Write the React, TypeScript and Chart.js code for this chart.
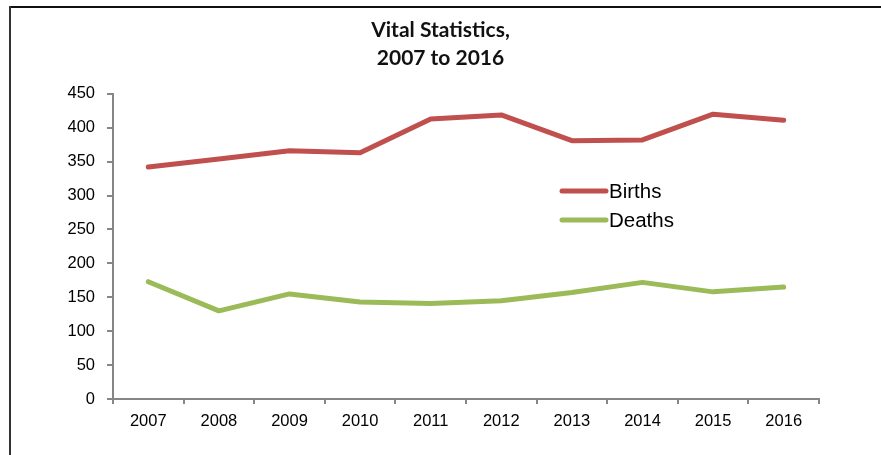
import React, { useEffect, useRef } from "react";
import { Chart, registerables } from "chart.js";

Chart.register(...registerables);

const years = ["2007", "2008", "2009", "2010", "2011", "2012", "2013", "2014", "2015", "2016"];
const births = [342, 354, 366, 363, 413, 419, 381, 382, 420, 411];
const deaths = [173, 130, 155, 143, 141, 145, 157, 172, 158, 165];
const titleLines = ["Vital Statistics,", "2007 to 2016"];
const seriesNames = ["Births", "Deaths"];
const seriesColors = ["#C0504D", "#9BBB59"];
const yMin = 0;
const yMax = 450;
const yStep = 50;

const AXIS = "#868686";

const legendPlugin = {
  id: "insideLegend",
  afterDraw(chart: any, _args: any, opts: any) {
    const ctx = chart.ctx;
    ctx.save();
    ctx.font = opts.font;
    ctx.textBaseline = "middle";
    ctx.textAlign = "left";
    chart.data.datasets.forEach((ds: any, i: number) => {
      const y = opts.y + i * opts.rowGap;
      ctx.strokeStyle = ds.borderColor;
      ctx.lineWidth = ds.borderWidth;
      ctx.lineCap = "round";
      ctx.beginPath();
      ctx.moveTo(opts.x, y);
      ctx.lineTo(opts.x + opts.lineLen, y);
      ctx.stroke();
      ctx.fillStyle = "#000";
      ctx.fillText(ds.label, opts.x + opts.lineLen + opts.gap, y + 1);
    });
    ctx.restore();
  },
};

export default function App() {
  const ref = useRef<HTMLCanvasElement>(null);
  useEffect(() => {
    if (!ref.current) return;
    const chart = new Chart(ref.current, {
      type: "line",
      data: {
        labels: years,
        datasets: [
          {
            label: seriesNames[0],
            data: births,
            borderColor: seriesColors[0],
            backgroundColor: seriesColors[0],
            borderWidth: 5,
            pointRadius: 0,
            tension: 0,
            borderCapStyle: "round",
            borderJoinStyle: "round",
          },
          {
            label: seriesNames[1],
            data: deaths,
            borderColor: seriesColors[1],
            backgroundColor: seriesColors[1],
            borderWidth: 5,
            pointRadius: 0,
            tension: 0,
            borderCapStyle: "round",
            borderJoinStyle: "round",
          },
        ],
      },
      options: {
        responsive: false,
        animation: false,
        layout: { padding: { left: 62, right: 62, top: 0, bottom: 0 } },
        plugins: {
          legend: { display: false },
          tooltip: { enabled: false },
          title: {
            display: true,
            text: titleLines,
            color: "#111",
            font: { family: "Lato, 'Open Sans', sans-serif", size: 21, weight: "bold", lineHeight: 1.33 },
            padding: { top: 16, bottom: 22 },
          },
          insideLegend: {
            x: 562,
            y: 191,
            rowGap: 29,
            lineLen: 44,
            gap: 3,
            font: "20.5px 'Liberation Sans', Arial, sans-serif",
          },
        } as any,
        scales: {
          x: {
            type: "category",
            offset: true,
            grid: {
              display: true,
              offset: true,
              drawOnChartArea: false,
              drawTicks: true,
              tickLength: 5,
              color: AXIS,
              lineWidth: 2,
            },
            border: { display: true, color: AXIS, width: 2 },
            ticks: {
              color: "#000",
              padding: 8,
              font: { family: "'Liberation Sans', Arial, sans-serif", size: 16.5 },
              maxRotation: 0,
            },
            afterFit(scale: any) {
              scale.height = 56;
            },
          },
          y: {
            min: yMin,
            max: yMax,
            ticks: {
              stepSize: yStep,
              color: "#000",
              padding: 12,
              font: { family: "'Liberation Sans', Arial, sans-serif", size: 16.5 },
            },
            grid: {
              display: true,
              drawOnChartArea: false,
              drawTicks: true,
              tickLength: 6,
              color: AXIS,
              lineWidth: 2,
            },
            border: { display: true, color: AXIS, width: 2 },
            afterFit(scale: any) {
              scale.width = 51;
            },
          },
        },
      },
      plugins: [legendPlugin],
    });
    return () => chart.destroy();
  }, []);

  return (
    <div style={{ position: "fixed", left: 0, top: 0, width: 881, height: 455, background: "#fff", overflow: "hidden" }}>
      <canvas ref={ref} width={881} height={455} style={{ position: "absolute", left: 0, top: 0 }} />
      <div style={{ position: "absolute", left: 9, top: 6, right: 0, height: 2, background: "#111" }} />
      <div style={{ position: "absolute", left: 9, top: 6, width: 1.5, bottom: 0, background: "#333" }} />
    </div>
  );
}
